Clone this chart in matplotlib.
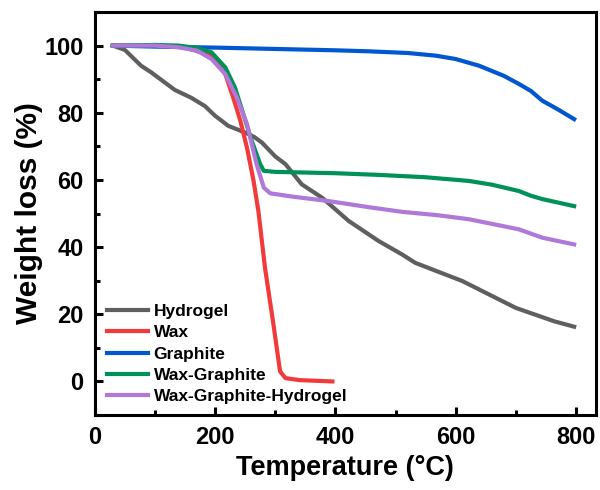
#!/usr/bin/env python3
import matplotlib
matplotlib.use('Agg')
import matplotlib.pyplot as plt
from matplotlib.ticker import MultipleLocator

plt.rcParams['font.family'] = ['Liberation Sans', 'DejaVu Sans']
plt.rcParams['font.weight'] = 'bold'

# TGA curves (temperature in C, weight in %)
hydrogel_t = [30, 50, 77, 94, 133, 160, 183, 200, 222, 250, 265, 278, 300, 317, 344, 378, 422, 472, 511, 533, 611, 700, 764, 797]
hydrogel_w = [100, 98.7, 94, 92, 86.8, 84.5, 82, 79.1, 76.1, 74.1, 72.8, 71.1, 67, 64.7, 58.7, 54.7, 47.8, 41.8, 37.8, 35.3, 29.9, 21.9, 17.9, 16.3]

wax_t = [30, 100, 150, 194, 217, 230, 242, 253, 264, 272, 283, 297, 308, 317, 340, 395]
wax_w = [100, 100, 99.5, 97, 91.5, 84.6, 77.6, 69.6, 59.7, 50.7, 33.8, 17, 3, 1, 0.4, 0]

graphite_t = [30, 100, 200, 300, 400, 455, 520, 567, 600, 639, 680, 705, 725, 744, 770, 797]
graphite_w = [100, 99.7, 99.4, 99, 98.6, 98.3, 97.8, 97, 96, 94, 91, 88.6, 86.5, 83.6, 81, 78.1]

waxgr_t = [30, 100, 139, 170, 194, 217, 233, 247, 261, 275, 281, 300, 400, 472, 550, 622, 660, 705, 725, 744, 797]
waxgr_w = [100, 100.2, 100, 99.3, 98, 93.5, 87.5, 79.6, 71.6, 64.7, 62.7, 62.4, 62, 61.5, 60.8, 59.7, 58.6, 56.7, 55.3, 54.3, 52.2]

wgh_t = [30, 100, 139, 170, 194, 217, 236, 253, 269, 281, 292, 330, 389, 455, 511, 570, 622, 705, 744, 797]
wgh_w = [100, 100, 99.5, 98.5, 96, 91.5, 84.6, 76.6, 64.7, 57.7, 56, 55, 53.7, 51.9, 50.5, 49.5, 48.3, 45.3, 42.8, 40.8]

fig = plt.figure(figsize=(6, 4.9), dpi=100)
ax = fig.add_axes([0.158, 0.153, 0.835, 0.8225])

lw = 3.0
ax.plot(hydrogel_t, hydrogel_w, color='#5f5f5f', lw=lw, label='Hydrogel')
ax.plot(wax_t, wax_w, color='#f23a3a', lw=lw, label='Wax')
ax.plot(graphite_t, graphite_w, color='#0057d0', lw=lw, label='Graphite')
ax.plot(waxgr_t, waxgr_w, color='#009158', lw=lw, label='Wax-Graphite')
ax.plot(wgh_t, wgh_w, color='#b078d8', lw=lw, label='Wax-Graphite-Hydrogel')

ax.set_xlim(0, 833)
ax.set_ylim(-10, 110)
ax.xaxis.set_major_locator(MultipleLocator(200))
ax.xaxis.set_minor_locator(MultipleLocator(100))
ax.yaxis.set_major_locator(MultipleLocator(20))
ax.yaxis.set_minor_locator(MultipleLocator(10))
ax.tick_params(which='both', direction='in', width=2.2, top=False, right=False)
ax.tick_params(which='major', length=6, labelsize=17, pad=8)
ax.tick_params(which='minor', length=3.5)
for s in ax.spines.values():
    s.set_linewidth(2.2)

ax.set_xlabel('Temperature (\u00b0C)', fontsize=19.5, fontweight='bold', labelpad=4)
ax.set_ylabel('Weight loss (%)', fontsize=21.5, fontweight='bold', labelpad=1)

ax.legend(loc='lower left', bbox_to_anchor=(0.01, 0.01), frameon=False,
          fontsize=12.5, handlelength=2.4, handletextpad=0.3, labelspacing=0.35,
          borderaxespad=0)

fig.savefig('out.png', dpi=100)
